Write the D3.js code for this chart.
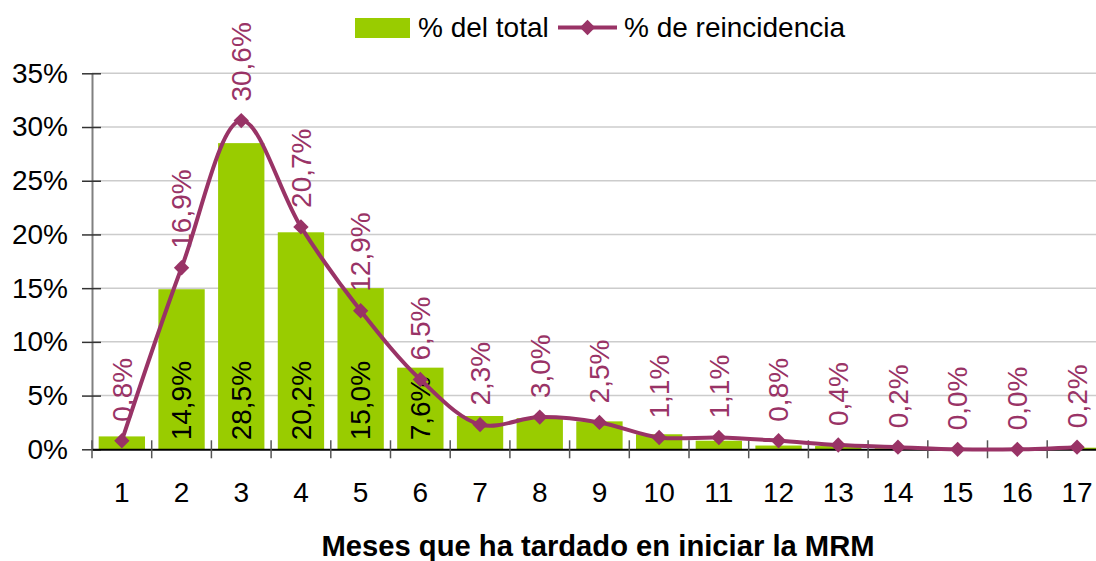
<!DOCTYPE html>
<html>
<head>
<meta charset="utf-8">
<script src="https://cdn.jsdelivr.net/npm/d3@7"></script>
<style>
  html, body { margin: 0; padding: 0; background: #fff; }
  svg { display: block; font-family: "Liberation Sans", Arial, sans-serif; }
</style>
</head>
<body>
<svg id="chart" width="1096" height="561"></svg>
<script>
// ---- data ----
const categories = ["1","2","3","4","5","6","7","8","9","10","11","12","13","14","15","16","17"];
const totalPct = [1.2, 14.9, 28.5, 20.2, 15.0, 7.6, 3.1, 2.9, 2.6, 1.4, 0.8, 0.35, 0.3, 0.1, 0.0, 0.0, 0.15];
const totalLabels = ["", "14,9%", "28,5%", "20,2%", "15,0%", "7,6%", "", "", "", "", "", "", "", "", "", "", ""];
const reincPct = [0.8, 16.9, 30.6, 20.7, 12.9, 6.5, 2.3, 3.0, 2.5, 1.1, 1.1, 0.8, 0.4, 0.2, 0.0, 0.0, 0.2];
const reincLabels = ["0,8%","16,9%","30,6%","20,7%","12,9%","6,5%","2,3%","3,0%","2,5%","1,1%","1,1%","0,8%","0,4%","0,2%","0,0%","0,0%","0,2%"];
const yTicks = [0, 5, 10, 15, 20, 25, 30, 35];
const yTickLabels = ["0%","5%","10%","15%","20%","25%","30%","35%"];
const seriesNames = ["% del total", "% de reincidencia"];
const xTitle = "Meses que ha tardado en iniciar la MRM";

// ---- styles ----
const barColor = "#99CC00";
const lineColor = "#993366";
const fontSize = 28;

const svg = d3.select("#chart");
const pLeft = 92, pRight = 92 + 17 * 59.7, pTop = 73.3, pBottom = 449.3;

const x = d3.scaleBand().domain(categories).range([pLeft, pRight]).paddingInner(0.224).paddingOuter(0.112);
const y = d3.scaleLinear().domain([0, 35]).range([pBottom, pTop]);

// gridlines
svg.append("g").selectAll("line").data(yTicks.filter(d => d > 0)).join("line")
  .attr("x1", pLeft).attr("x2", pRight)
  .attr("y1", d => y(d)).attr("y2", d => y(d))
  .attr("stroke", "#cccccc").attr("stroke-width", 1.5);

// bars
svg.append("g").selectAll("rect").data(totalPct).join("rect")
  .attr("x", (d, i) => x(categories[i]))
  .attr("width", x.bandwidth())
  .attr("y", d => y(d))
  .attr("height", d => pBottom - y(d))
  .attr("fill", barColor);

// y axis
const yAxis = d3.axisLeft(y).tickValues(yTicks).tickFormat((d, i) => yTickLabels[i]).tickSize(0);
const gy = svg.append("g").attr("transform", `translate(${pLeft},0)`).call(yAxis);
gy.select(".domain").attr("stroke", "#808080").attr("stroke-width", 2);
gy.selectAll(".tick text").attr("x", -24).attr("font-size", fontSize).attr("fill", "#000")
  .attr("font-family", "Liberation Sans, Arial, sans-serif");
gy.selectAll(".tick").append("line").attr("x1", -10).attr("x2", 9).attr("stroke", "#333").attr("stroke-width", 1.5);

// x axis
const xAxis = d3.axisBottom(x).tickSize(0);
const gx = svg.append("g").attr("transform", `translate(0,${pBottom})`).call(xAxis);
gx.select(".domain").attr("stroke", "#000").attr("stroke-width", 2);
gx.selectAll(".tick text").attr("y", 0).attr("dy", 0)
  .attr("transform", "translate(0,53)")
  .attr("font-size", fontSize).attr("fill", "#000")
  .attr("font-family", "Liberation Sans, Arial, sans-serif");
// separators between categories
const seps = d3.range(categories.length + 1).map(i => pLeft + i * x.step());
gx.append("g").selectAll("line").data(seps).join("line")
  .attr("x1", d => d).attr("x2", d => d)
  .attr("y1", -9).attr("y2", 9)
  .attr("stroke", "#555").attr("stroke-width", 1.5);

// bar labels
svg.append("g").selectAll("text").data(totalLabels).join("text")
  .attr("transform", (d, i) => `translate(${x(categories[i]) + x.bandwidth() / 2},${pBottom - 9}) rotate(-90)`)
  .attr("dy", "0.35em")
  .attr("text-anchor", "start")
  .attr("font-size", fontSize)
  .attr("fill", "#000")
  .text(d => d);

// line
const cx = i => x(categories[i]) + x.bandwidth() / 2;
const line = d3.line().x((d, i) => cx(i)).y(d => y(d)).curve(d3.curveCatmullRom.alpha(0.5));
svg.append("path").datum(reincPct)
  .attr("d", line).attr("fill", "none")
  .attr("stroke", lineColor).attr("stroke-width", 4);

const diamond = d3.symbol().type(d3.symbolDiamond2).size(150);
svg.append("g").selectAll("path").data(reincPct).join("path")
  .attr("d", diamond)
  .attr("transform", (d, i) => `translate(${cx(i)},${y(d)})`)
  .attr("fill", lineColor);

// line labels
svg.append("g").selectAll("text").data(reincPct).join("text")
  .attr("transform", (d, i) => `translate(${cx(i)},${y(d) - 19}) rotate(-90)`)
  .attr("dy", "0.35em")
  .attr("text-anchor", "start")
  .attr("font-size", fontSize)
  .attr("fill", lineColor)
  .text((d, i) => reincLabels[i]);

// x title
svg.append("text")
  .attr("x", 598).attr("y", 556)
  .attr("text-anchor", "middle")
  .attr("font-size", 29.2).attr("font-weight", "bold")
  .attr("fill", "#000")
  .text(xTitle);

// legend
const lg = svg.append("g");
lg.append("rect").attr("x", 355).attr("y", 18).attr("width", 55).attr("height", 20).attr("fill", barColor);
lg.append("text").attr("x", 418).attr("y", 37).attr("font-size", fontSize).attr("fill", "#000").text(seriesNames[0]);
lg.append("line").attr("x1", 558).attr("x2", 617).attr("y1", 27.5).attr("y2", 27.5)
  .attr("stroke", lineColor).attr("stroke-width", 4);
lg.append("path").attr("d", diamond).attr("transform", "translate(587.5,27.5)").attr("fill", lineColor);
lg.append("text").attr("x", 624).attr("y", 37).attr("font-size", fontSize).attr("fill", "#000").text(seriesNames[1]);
</script>
</body>
</html>
